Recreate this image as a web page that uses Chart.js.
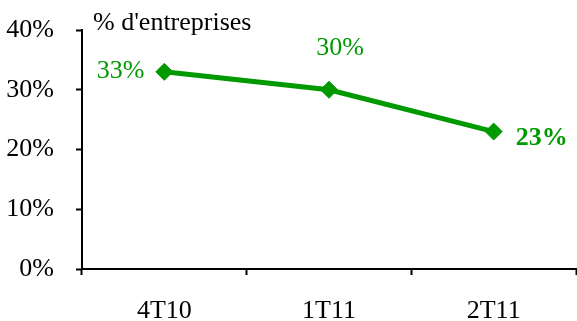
<!DOCTYPE html>
<html lang="fr">
<head>
  <meta charset="UTF-8" />
  <title>% d'entreprises</title>
  <script src="https://cdn.jsdelivr.net/npm/chart.js@4.4.0/dist/chart.umd.min.js"></script>
  <style>
    html, body { margin: 0; padding: 0; background: #fff; }
    .wrap { position: relative; width: 577px; height: 321px; }
  </style>
</head>
<body>
<div class="wrap"><canvas id="chart" width="577" height="321"></canvas></div>

<script>
// Data
const quarters  = ['4T10', '1T11', '2T11'];
const shares    = [33, 30, 23];
const yTicks    = [0, 10, 20, 30, 40];
const unitLabel = "% d'entreprises";

const GREEN = '#009900';
const FONT  = "'Liberation Serif', 'Times New Roman', serif";

// Value labels next to each diamond + unit caption above the axis
const annotations = {
  id: 'annotations',
  afterDatasetsDraw(chart) {
    const { ctx, chartArea } = chart;
    const pts = chart.getDatasetMeta(0).data;
    // [dx, dy, align, bold] per point
    const place = [[-20, -1, 'right', false], [11, -42, 'center', false], [22, 7, 'left', true]];
    ctx.save();
    ctx.fillStyle = GREEN;
    ctx.textBaseline = 'middle';
    pts.forEach((p, i) => {
      const [dx, dy, align, bold] = place[i];
      ctx.font = (bold ? 'bold ' : '') + '26px ' + FONT;
      ctx.textAlign = align;
      ctx.fillText(shares[i] + '%', p.x + dx, p.y + dy);
    });
    ctx.fillStyle = '#000';
    ctx.font = '26px ' + FONT;
    ctx.textAlign = 'left';
    ctx.textBaseline = 'alphabetic';
    ctx.fillText(unitLabel, chartArea.left + 11, 30);
    ctx.restore();
  }
};

new Chart(document.getElementById('chart'), {
  type: 'line',
  data: {
    labels: quarters,
    datasets: [{
      data: shares,
      borderColor: GREEN,
      backgroundColor: GREEN,
      borderWidth: 5,
      pointStyle: 'rectRot',
      pointRadius: 8.5,
      pointBorderWidth: 1,
      pointBackgroundColor: GREEN,
      pointBorderColor: GREEN,
      tension: 0,
      clip: false,
    }],
  },
  options: {
    responsive: false,
    animation: false,
    layout: { autoPadding: false, padding: { top: 30, right: 1, left: 0, bottom: 0 } },
    plugins: { legend: { display: false }, tooltip: { enabled: false } },
    scales: {
      x: {
        offset: true,
        grid: { offset: true, drawOnChartArea: false, tickColor: '#000', tickLength: 6, tickWidth: 2 },
        border: { color: '#000', width: 2 },
        ticks: { color: '#000', font: { family: FONT, size: 26 }, padding: 21, maxRotation: 0 },
        afterFit(scale) {
          scale.height = 52;
          scale.paddingLeft = 0; scale.paddingRight = 0;
        },
      },
      y: {
        min: yTicks[0],
        max: yTicks[yTicks.length - 1],
        afterBuildTicks(scale) { scale.ticks = yTicks.map(v => ({ value: v })); },
        grid: { drawOnChartArea: false, tickColor: '#000', tickLength: 6, tickWidth: 2 },
        border: { color: '#000', width: 2 },
        ticks: { color: '#000', font: { family: FONT, size: 26 }, padding: 22, callback: v => v + '%' },
        afterFit(scale) {
          scale.width = 82;
          scale.paddingTop = 0; scale.paddingBottom = 0;
        },
      },
    },
  },
  plugins: [annotations],
});
</script>
</body>
</html>
